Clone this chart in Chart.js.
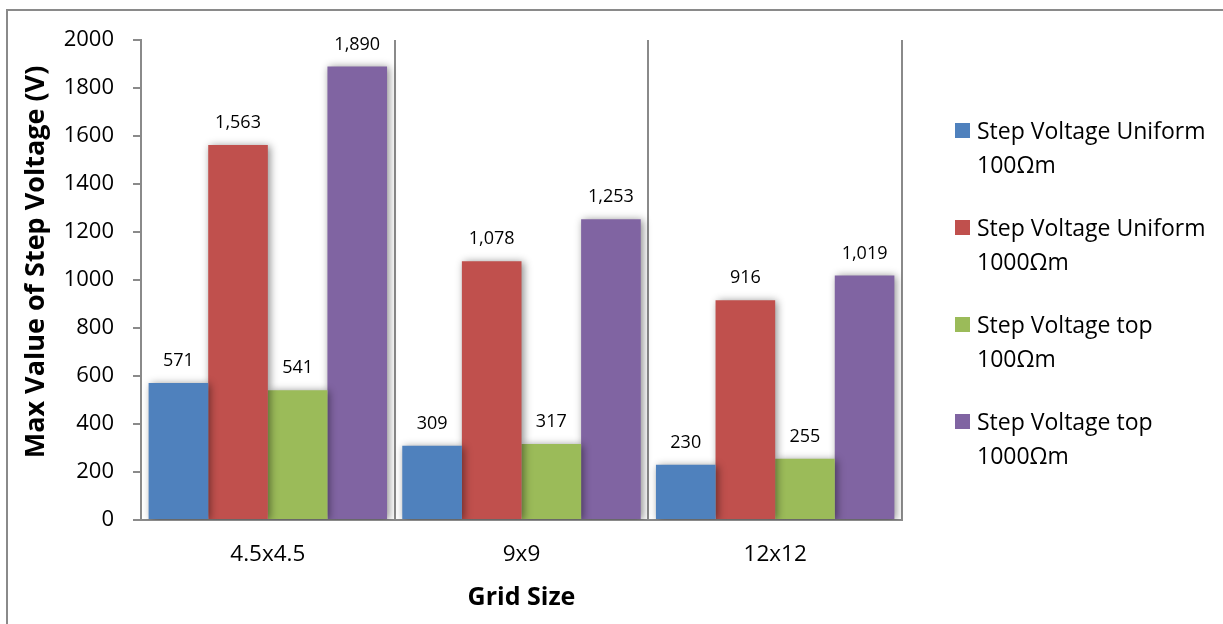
<!DOCTYPE html>
<html>
<head>
<meta charset="utf-8">
<script src="https://cdn.jsdelivr.net/npm/chart.js@4.4.1/dist/chart.umd.min.js"></script>
<style>
  html, body { margin: 0; padding: 0; background: #fff; overflow: hidden; }
  #wrap { position: relative; width: 1223px; height: 624px; }
  #frame { position: absolute; left: 6px; top: 9px; right: -10px; bottom: -10px; border-left: 2px solid #8a8a8a; border-top: 2px solid #8a8a8a; }
  canvas { position: absolute; left: 0; top: 0; }
  #legend { position: absolute; left: 955px; top: 113px; font-family: "Open Sans", sans-serif; font-size: 23px; color: #000; }
  .item { position: relative; padding-left: 22px; line-height: 34px; margin-bottom: 29px; white-space: nowrap; }
  .sw { position: absolute; left: 0; top: 10px; width: 15px; height: 15px; }
</style>
</head>
<body>
<div id="wrap">
  <div id="frame"></div>
  <canvas id="chart" width="1223" height="624"></canvas>
  <div id="legend"></div>
</div>
<script>
const categories = ['4.5x4.5', '9x9', '12x12'];
const seriesNames = [
  ['Step Voltage Uniform', '100Ωm'],
  ['Step Voltage Uniform', '1000Ωm'],
  ['Step Voltage top', '100Ωm'],
  ['Step Voltage top', '1000Ωm']
];
const uniform100 = [571, 309, 230];
const uniform1000 = [1563, 1078, 916];
const top100 = [541, 317, 255];
const top1000 = [1890, 1253, 1019];
const colors = ['#4F81BD', '#C0504D', '#9BBB59', '#8064A2'];
const yTitle = 'Max Value of Step Voltage (V)';

const values = [uniform100, uniform1000, top100, top1000];
const gray = '#8a8a8a';
const font = 'Open Sans';

// soft shadow round the bars, like the office chart
const barShadow = {
  id: 'barShadow',
  beforeDatasetsDraw(chart) {
    const ctx = chart.ctx;
    ctx.save();
    ctx.shadowColor = 'rgba(0,0,0,0.45)';
    ctx.shadowBlur = 8;
    ctx.shadowOffsetX = 2;
    ctx.shadowOffsetY = 1;
  },
  afterDatasetsDraw(chart) {
    chart.ctx.restore();
  }
};

const valueLabels = {
  id: 'valueLabels',
  afterDraw(chart) {
    const ctx = chart.ctx;
    ctx.save();
    ctx.font = '18px "Open Sans", sans-serif';
    ctx.fillStyle = '#000';
    ctx.textAlign = 'center';
    ctx.textBaseline = 'middle';
    chart.data.datasets.forEach((ds, i) => {
      chart.getDatasetMeta(i).data.forEach((bar, j) => {
        ctx.fillText(ds.data[j].toLocaleString('en-US'), bar.x, bar.y - 22);
      });
    });
    // y axis title, sits a bit above the middle as in the original
    ctx.translate(36, 262);
    ctx.rotate(-Math.PI / 2);
    ctx.font = 'bold 27px "Open Sans", sans-serif';
    ctx.fillText(yTitle, 0, 0);
    ctx.restore();
  }
};

const ctx = document.getElementById('chart').getContext('2d');
new Chart(ctx, {
  type: 'bar',
  data: {
    labels: categories,
    datasets: values.map((v, i) => ({
      label: seriesNames[i].join(' '),
      data: v,
      backgroundColor: colors[i],
      borderWidth: 0,
      categoryPercentage: 0.94,
      barPercentage: 1
    }))
  },
  options: {
    responsive: false,
    animation: false,
    layout: { padding: { top: 40, right: 321, left: 0, bottom: 0 } },
    plugins: {
      legend: { display: false },
      tooltip: { enabled: false }
    },
    scales: {
      x: {
        afterFit: (s) => { s.height = 104; },
        grid: { color: gray, lineWidth: 2, drawTicks: false, offset: true },
        border: { color: gray, width: 2 },
        ticks: { color: '#000', font: { family: font, size: 22.5 }, padding: 21 },
        title: {
          display: true, text: 'Grid Size', color: '#000',
          font: { family: font, size: 25, weight: 'bold' },
          padding: { top: 12, bottom: 11 }
        }
      },
      y: {
        min: 0, max: 2000,
        afterFit: (s) => { s.width = 141; },
        grid: { drawOnChartArea: false, color: gray, lineWidth: 2, tickLength: 8 },
        border: { color: gray, width: 2 },
        ticks: {
          stepSize: 200, color: '#000', font: { family: font, size: 22 }, padding: 19,
          callback: (v) => String(v)
        }
      }
    }
  },
  plugins: [barShadow, valueLabels]
});

const legend = document.getElementById('legend');
seriesNames.forEach((lines, i) => {
  const div = document.createElement('div');
  div.className = 'item';
  div.innerHTML = '<span class="sw" style="background:' + colors[i] + '"></span>' + lines[0] + '<br>' + lines[1];
  legend.appendChild(div);
});
</script>
</body>
</html>
